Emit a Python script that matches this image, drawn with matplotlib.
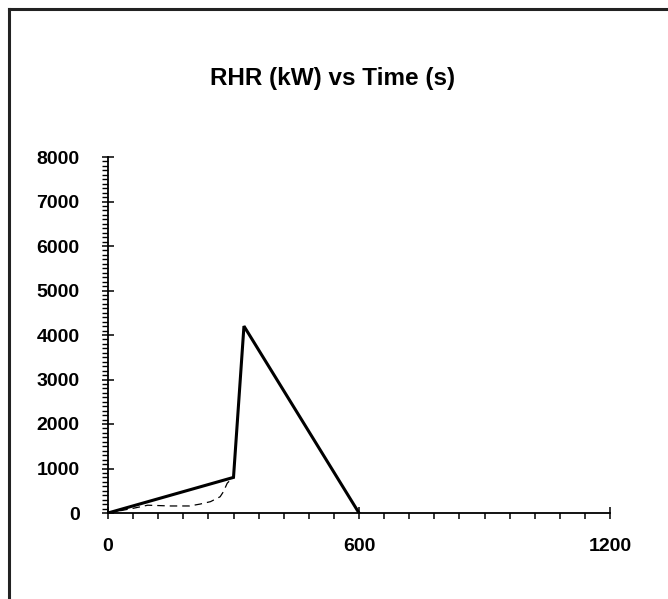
import matplotlib
matplotlib.use("Agg")
import matplotlib.pyplot as plt
from matplotlib.ticker import MultipleLocator, FixedLocator
from matplotlib.lines import Line2D

# Data
design_t = [0, 300, 325, 600]
design_q = [0, 800, 4200, 0]
test_t = [0, 60, 95, 150, 195, 220, 245, 268, 276, 285, 298]
test_q = [0, 105, 175, 158, 158, 200, 255, 365, 480, 670, 790]

title_text = "RHR (kW) vs Time (s)"
x_ticks = [0, 600, 1200]
y_ticks = [0, 1000, 2000, 3000, 4000, 5000, 6000, 7000, 8000]

W, H, DPI = 668, 599, 100
fig = plt.figure(figsize=(W / DPI, H / DPI), dpi=DPI)
fig.patch.set_facecolor("white")

font = "Liberation Sans"

ax = fig.add_axes([108 / W, (H - 513) / H, 502 / W, 356 / H])
ax.plot(design_t, design_q, color="black", lw=2.2, solid_joinstyle="miter")
ax.plot(test_t, test_q, color="black", lw=0.9, dashes=(6, 4))

ax.set_xlim(0, 1200)
ax.set_ylim(0, 8000)
for s in ["top", "right"]:
    ax.spines[s].set_visible(False)
for s in ["left", "bottom"]:
    ax.spines[s].set_linewidth(1.3)
    ax.spines[s].set_color("black")

ax.xaxis.set_major_locator(FixedLocator(x_ticks))
ax.xaxis.set_minor_locator(MultipleLocator(60))
ax.yaxis.set_major_locator(FixedLocator(y_ticks))
ax.yaxis.set_minor_locator(MultipleLocator(100))

ax.tick_params(axis="x", which="major", direction="inout", length=8.5, width=1.1,
               pad=14, labelsize=14)
ax.tick_params(axis="x", which="minor", direction="out", length=4, width=1.1)
ax.tick_params(axis="y", which="major", direction="inout", length=9, width=1.1,
               pad=16, labelsize=14)
ax.tick_params(axis="y", which="minor", direction="out", length=4, width=1.0)

ax.set_xticklabels([str(v) for v in x_ticks], fontfamily=font, fontweight="bold")
ax.set_yticklabels([str(v) for v in y_ticks], fontfamily=font, fontweight="bold")

fig.text(333 / W, (H - 78) / H, title_text, ha="center", va="center",
         fontsize=17.5, fontfamily=font, fontweight="bold")

# outer frame (top and left edges visible)
fig.add_artist(Line2D([9 / W, 1.0], [(H - 9) / H, (H - 9) / H],
                      transform=fig.transFigure, color="#222222", lw=2.2))
fig.add_artist(Line2D([9 / W, 9 / W], [0, (H - 9) / H],
                      transform=fig.transFigure, color="#222222", lw=2.2))

fig.savefig("out.png", dpi=DPI)
